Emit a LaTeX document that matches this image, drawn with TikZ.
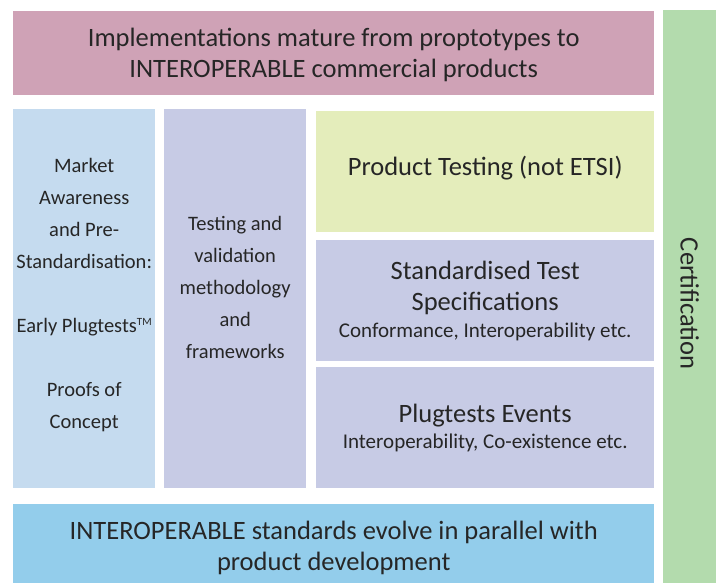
\documentclass[tikz,border=0pt]{standalone}
\usepackage{fontspec}
\setmainfont{Carlito}
\definecolor{pinkbox}{HTML}{CFA2B6}
\definecolor{certgreen}{HTML}{B3DBAD}
\definecolor{colblue}{HTML}{C5DBEF}
\definecolor{lavender}{HTML}{C7CBE5}
\definecolor{limebox}{HTML}{E4EDBB}
\definecolor{skyblue}{HTML}{93CDEB}
\tikzset{
  blk/.style={rectangle,inner sep=0pt,anchor=north west,align=center,
    text=black!85,font=\fontsize{26.5}{31}\selectfont},
  colblk/.style={blk,font=\fontsize{20.5}{32}\selectfont},
}
\newcommand{\smalltxt}{\fontsize{21}{26}\selectfont}
\newcommand{\tmark}{\raisebox{7pt}{\fontsize{11}{11}\selectfont TM}}
\begin{document}
\begin{tikzpicture}[x=1pt,y=-1pt]
\useasboundingbox (0,0) rectangle (721,582);
% top and bottom bars
\node[blk,fill=pinkbox,minimum width=641pt,minimum height=84pt,text depth=-1pt] (impl) at (13,11)
  {Implementations mature from proptotypes to\\INTEROPERABLE commercial products};
\node[blk,fill=skyblue,minimum width=641pt,minimum height=84pt,text depth=0pt] (stds) at (13,504)
  {INTEROPERABLE standards evolve in parallel with\\product development};

% certification bar
\node[blk,fill=certgreen,minimum width=53pt,minimum height=574pt] (cert) at (663,10) {};
\node[rotate=-90,font=\fontsize{26.5}{31}\selectfont,text=black!85] (certtxt) at ([yshift=-6.5pt]cert.center) {Certification};

% left columns
\node[colblk,fill=colblue,minimum width=142pt,minimum height=379pt,text depth=10pt] (mkt) at (13,109)
  {Market\\Awareness\\and Pre-\\Standardisation:\\[32pt]Early Plugtests\tmark\\[32pt]Proofs of\\Concept};
\node[colblk,fill=lavender,minimum width=142pt,minimum height=379pt,text depth=22pt] (meth) at (164,109)
  {Testing and\\validation\\methodology\\and\\frameworks};

% right stack
\node[blk,fill=limebox,minimum width=338pt,minimum height=121pt,text depth=12pt] (prod) at (316,111)
  {Product Testing (not ETSI)};
\node[blk,fill=lavender,minimum width=338pt,minimum height=121pt] (spec) at (316,240)
  {Standardised Test\\Specifications\\[-4pt]{\smalltxt Conformance, Interoperability etc.}};
\node[blk,fill=lavender,minimum width=338pt,minimum height=121pt] (plug) at (316,367)
  {Plugtests Events\\[-5pt]{\smalltxt Interoperability, Co-existence etc.}};
\end{tikzpicture}
\end{document}
